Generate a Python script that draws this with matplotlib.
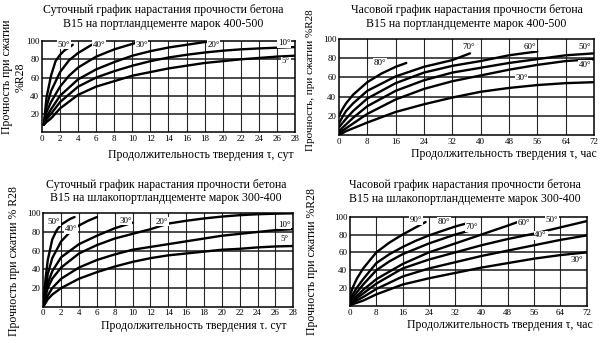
import matplotlib.pyplot as plt

plt.rcParams['font.family'] = ['Liberation Serif', 'DejaVu Serif']

# --- суточный, портландцемент 400-500 (сутки, % R28) ---
tl_labels = ['50°', '40°', '30°', '20°', '10°', '5°']
tl_x = [
    [0.2, 0.5, 1, 1.5, 2, 2.5, 3, 3.4],
    [0.2, 0.5, 1, 2, 3, 4, 5, 5.5],
    [0.2, 0.5, 1, 2, 3, 4, 6, 8, 10, 11],
    [0.2, 0.5, 1, 2, 4, 6, 8, 10, 12, 14, 16, 18, 19.5],
    [0.2, 0.5, 1, 2, 4, 6, 8, 10, 12, 14, 16, 18, 20, 22, 24, 26, 28],
    [0.2, 0.5, 1, 2, 4, 6, 8, 10, 12, 14, 16, 18, 20, 22, 24, 26, 28],
]
tl_y = [
    [8, 38, 62, 78, 85, 90, 93, 96],
    [8, 28, 45, 66, 79, 87, 93, 96],
    [8, 22, 33, 50, 62, 71, 83, 91, 97, 100],
    [8, 17, 25, 40, 58, 69, 77, 84, 89, 93, 96, 99, 100],
    [8, 14, 20, 33, 50, 60, 67, 73, 78, 82, 85, 87.5, 89.5, 91, 92, 92.8, 93.5],
    [8, 11, 15, 26, 41, 50, 56, 62, 66, 70, 73, 76, 78, 80, 81.5, 83, 84],
]
tl_label_pos = [(2.4, 96), (6.3, 96), (11, 96), (19, 96), (26.8, 98), (27, 78)]

# --- часовой, портландцемент 400-500 (часы, % R28) ---
tr_labels = ['80°', '70°', '60°', '50°', '40°', '30°']
tr_x = [
    [0, 1, 2, 4, 8, 12, 16, 19],
    [0, 1, 2, 4, 8, 16, 24, 32, 37],
    [0, 2, 4, 8, 16, 24, 32, 40, 48, 56],
    [0, 2, 4, 8, 16, 24, 32, 40, 48, 56, 64, 72],
    [0, 2, 4, 8, 16, 24, 32, 40, 48, 56, 64, 72],
    [0, 2, 4, 8, 16, 24, 32, 40, 48, 56, 64, 72],
]
tr_y = [
    [20, 27, 33, 42, 55, 64, 71, 75],
    [12, 19, 25, 33, 46, 61, 71, 78, 85],
    [8, 17, 25, 38, 54, 65, 72, 77, 83, 87],
    [4, 11, 18, 30, 46, 57, 65, 70, 75, 79, 83, 85],
    [2, 7, 12, 22, 37, 48, 56, 62, 68, 73, 77, 79],
    [0, 4, 7, 13, 24, 32, 39, 45, 49, 52, 54, 55],
]
tr_label_pos = [(11.5, 75), (36.5, 92), (54, 92), (69.5, 92), (69.5, 73), (51.5, 59)]

# --- суточный, шлакопортландцемент 300-400 ---
bl_labels = ['50°', '40°', '30°', '20°', '10°', '5°']
bl_x = [
    [0, 0.25, 0.5, 1, 1.5, 2, 3, 3.5],
    [0, 0.5, 1, 2, 3, 4, 5, 6],
    [0, 0.5, 1, 2, 4, 6, 8, 10],
    [0, 0.5, 1, 2, 4, 6, 8, 10, 12, 14, 16, 18, 20, 22, 24, 26, 28],
    [0, 0.5, 1, 2, 4, 6, 8, 10, 12, 14, 16, 18, 20, 22, 24, 26, 28],
    [0, 0.5, 1, 2, 4, 6, 8, 10, 12, 14, 16, 18, 20, 22, 24, 26, 28],
]
bl_y = [
    [2, 30, 50, 72, 82, 88, 94, 96],
    [2, 35, 52, 70, 80, 87, 92, 96],
    [2, 25, 38, 53, 67, 76, 84, 90],
    [2, 20, 30, 42, 57, 66, 73, 78, 83, 89, 92, 94.5, 96.5, 98, 99, 99.6, 100],
    [1, 12, 20, 30, 42, 50, 56, 61, 64, 67, 70, 73, 76, 78, 80, 82, 83],
    [0, 8, 13, 20, 30, 37, 43, 48, 52, 55, 57, 59, 61, 62, 63.5, 64.5, 65],
]
bl_label_pos = [(1.2, 91), (3.1, 83), (9.2, 92), (13.3, 91), (27, 88), (27, 73)]

# --- часовой, шлакопортландцемент 300-400 ---
br_labels = ['90°', '80°', '70°', '60°', '50°', '40°', '30°']
br_x = [
    [0, 1, 2, 4, 8, 12, 16, 20, 23],
    [0, 2, 4, 8, 12, 16, 20, 24, 28, 32, 35],
    [0, 2, 4, 8, 12, 16, 24, 32, 38],
    [0, 4, 8, 16, 24, 32, 40, 48, 51],
    [0, 4, 8, 16, 24, 32, 40, 48, 56, 64, 72],
    [0, 4, 8, 16, 24, 32, 40, 48, 56, 64, 72],
    [0, 4, 8, 16, 24, 32, 40, 48, 56, 64, 72],
]
br_y = [
    [12, 22, 30, 42, 60, 71, 80, 88, 94],
    [8, 20, 30, 48, 58, 66, 73, 79, 84, 89, 92],
    [6, 15, 24, 40, 50, 58, 70, 80, 86],
    [4, 18, 30, 47, 60, 70, 80, 90, 94],
    [3, 14, 25, 42, 52, 60, 68, 75, 81, 88, 95],
    [2, 10, 19, 33, 42, 49, 56, 62, 68, 74, 79],
    [1, 6, 13, 24, 31, 37, 43, 48, 53, 57, 60],
]
br_label_pos = [(20, 96), (28.5, 94), (37, 88), (53, 93), (61.5, 96), (58, 79), (69, 52)]

titles = [
    ('Суточный график нарастания прочности бетона', 'В15 на портландцементе марок 400-500'),
    ('Часовой график нарастания прочности бетона', 'В15 на портландцементе марок 400-500'),
    ('Суточный график нарастания прочности бетона', 'В15 на шлакопортландцементе марок 300-400'),
    ('Часовой график нарастания прочности бетона', 'В15 на шлакопортландцементе марок 300-400'),
]
xlabels = ['Продолжительность твердения τ, сут', 'Продолжительность твердения τ, час',
           'Продолжительность твердения τ. сут', 'Продолжительность твердения τ, час']


def draw(ax, xs, ys, labels, label_pos, xmax, xstep):
    ax.set_xlim(0, xmax)
    ax.set_ylim(0, 100)
    ax.set_xticks(range(0, xmax + 1, xstep))
    ax.set_yticks([20, 40, 60, 80, 100])
    for v in range(xstep, xmax, xstep):
        ax.axvline(v, color='0.15', lw=0.8, zorder=1)
    for v in [20, 40, 60, 80]:
        ax.axhline(v, color='0.1', lw=1.1, zorder=1)
    for x, y in zip(xs, ys):
        ax.plot(x, y, color='black', lw=1.7, solid_capstyle='round', zorder=3)
    for text, (lx, ly) in zip(labels, label_pos):
        ax.text(lx, ly, text, fontsize=6.5, ha='center', va='center', zorder=4,
                bbox=dict(fc='white', ec='none', pad=0.4))
    ax.tick_params(length=0, labelsize=6.5, pad=2)
    for s in ax.spines.values():
        s.set_linewidth(1.1)


fig = plt.figure(figsize=(6.05, 3.43), dpi=100)

ax_tl = fig.add_axes([0.0694, 0.615, 0.4182, 0.265])
ax_tr = fig.add_axes([0.5603, 0.6064, 0.4215, 0.28])
ax_bl = fig.add_axes([0.0716, 0.1058, 0.4132, 0.2723])
ax_br = fig.add_axes([0.5785, 0.1079, 0.3912, 0.2604])

draw(ax_tl, tl_x, tl_y, tl_labels, tl_label_pos, 28, 2)
draw(ax_tr, tr_x, tr_y, tr_labels, tr_label_pos, 72, 8)
draw(ax_bl, bl_x, bl_y, bl_labels, bl_label_pos, 28, 2)
draw(ax_br, br_x, br_y, br_labels, br_label_pos, 72, 8)

# заголовки
title_pos = [(0.27, 0.971, 0.930), (0.771, 0.971, 0.930),
             (0.274, 0.461, 0.422), (0.769, 0.461, 0.419)]
for (l1, l2), (tx, y1, y2) in zip(titles, title_pos):
    fig.text(tx, y1, l1, ha='center', va='center', fontsize=8.5)
    fig.text(tx, y2, l2, ha='center', va='center', fontsize=8.5)

# подписи осей
xlabel_pos = [(0.332, 0.548), (0.833, 0.551), (0.321, 0.050), (0.827, 0.052)]
for text, (lx, ly) in zip(xlabels, xlabel_pos):
    fig.text(lx, ly, text, ha='center', va='center', fontsize=8.5)

fig.text(0.012, 0.776, 'Прочность при сжатии', rotation=90, ha='center', va='center', fontsize=8.5)
fig.text(0.034, 0.776, '%R28', rotation=90, ha='center', va='center', fontsize=8.5)
fig.text(0.513, 0.767, 'Прочность, при сжатии %R28', rotation=90, ha='center', va='center', fontsize=8)
fig.text(0.023, 0.239, 'Прочность при сжатии % R28', rotation=90, ha='center', va='center', fontsize=8.5)
fig.text(0.516, 0.239, 'Прочность при сжатии %R28', rotation=90, ha='center', va='center', fontsize=8.5)

plt.savefig('out.png', dpi=100)
